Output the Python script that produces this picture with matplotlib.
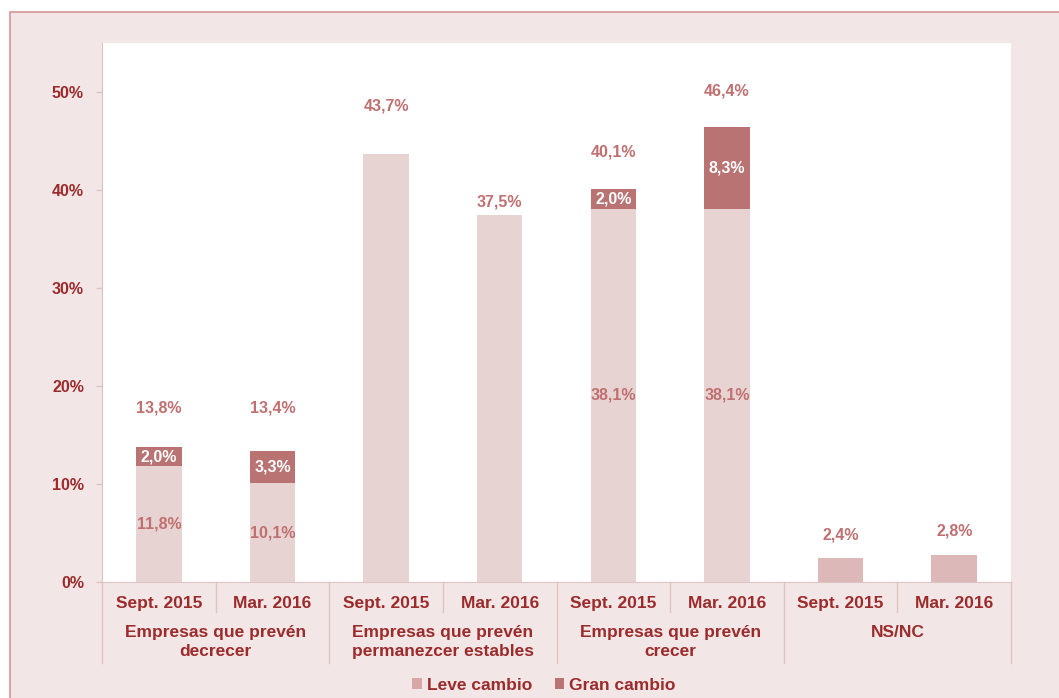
import numpy as np
import matplotlib
matplotlib.use('Agg')
import matplotlib.pyplot as plt
from matplotlib.patches import Rectangle, Patch
from matplotlib.lines import Line2D

plt.rcParams['font.family'] = ['Liberation Sans', 'DejaVu Sans']

# data
periods = ['Sept. 2015', 'Mar. 2016'] * 4
groups = ['Empresas que prevén\ndecrecer',
          'Empresas que prevén\npermanezcer estables',
          'Empresas que prevén\ncrecer',
          'NS/NC']
leve = [11.8, 10.1, 43.7, 37.5, 38.1, 38.1, 2.4, 2.8]
gran = [2.0, 3.3, 0.0, 0.0, 2.0, 8.3, 0.0, 0.0]
totals = [13.8, 13.4, 43.7, 37.5, 40.1, 46.4, 2.4, 2.8]
show_parts = [True, True, False, False, True, True, False, False]
yticks = [0, 10, 20, 30, 40, 50]

# label offsets above the bar top (percentage points), as placed in the original
total_offset = [4.0, 4.4, 4.9, 1.3, 3.8, 3.7, 2.4, 2.4]

DARK = '#9c2b2b'
LABEL = '#c07070'
LEVE = '#e8d3d3'
GRAN = '#b87372'
NSNC = '#ddb8b8'
BG = '#f3e6e7'
LINE = '#dfc3c3'

def fmt(v):
    return ('%.1f%%' % v).replace('.', ',')

fig = plt.figure(figsize=(10.59, 6.98), dpi=100, facecolor='white')
fig.patches.append(Rectangle((10 / 1059, -0.1), 1.2, (698 - 12) / 698 + 0.1,
                             transform=fig.transFigure, facecolor=BG,
                             edgecolor='#d49595', linewidth=1.2, zorder=-10))

ax = fig.add_axes([102 / 1059, (698 - 582) / 698, 909 / 1059, 539 / 698])
ax.set_facecolor('white')

x = np.arange(len(leve))
leve_colors = [LEVE] * 6 + [NSNC] * 2
ax.bar(x, leve, width=0.4, color=leve_colors, zorder=2)
ax.bar(x, gran, width=0.4, bottom=leve, color=GRAN, zorder=2)

for i in range(len(x)):
    ax.text(x[i], totals[i] + total_offset[i], fmt(totals[i]), ha='center', va='center',
            color=LABEL, fontsize=11.5, fontweight='bold')
    if show_parts[i]:
        ax.text(x[i], leve[i] / 2, fmt(leve[i]), ha='center', va='center',
                color=LABEL, fontsize=11.5, fontweight='bold')
        ax.text(x[i], leve[i] + gran[i] / 2, fmt(gran[i]), ha='center', va='center',
                color='white', fontsize=11.5, fontweight='bold')

ax.set_xlim(-0.5, len(x) - 0.5)
ax.set_ylim(0, 55)
ax.set_yticks(yticks)
ax.set_yticklabels(['%d%%' % t for t in yticks])
ax.tick_params(axis='y', colors=LINE, length=4.5, width=1, pad=8.5)
for lab in ax.get_yticklabels():
    lab.set_color(DARK)
    lab.set_fontweight('bold')
    lab.set_fontsize(11.5)
ax.set_xticks([])

for s in ['top', 'right']:
    ax.spines[s].set_visible(False)
ax.spines['left'].set_color(LINE)
ax.spines['bottom'].set_color(LINE)

# category axis separators and labels
tr = ax.get_xaxis_transform()
for b in np.arange(-0.5, len(x), 1.0):
    long_line = (int(b + 0.5) % 2 == 0)
    y_end = -0.150 if long_line else -0.056
    ax.add_line(Line2D([b, b], [0, y_end], transform=tr, color=LINE,
                       linewidth=1, clip_on=False))
for i, p in enumerate(periods):
    ax.text(x[i], -0.039, p, transform=tr, ha='center', va='center',
            color=DARK, fontsize=12.5, fontweight='bold')
for g, name in enumerate(groups):
    ax.text(2 * g + 0.5, -0.080, name, transform=tr, ha='center', va='top',
            color=DARK, fontsize=12.5, fontweight='bold', linespacing=1.35)

handles = [Patch(facecolor='#d9a6a6', label='Leve cambio'),
           Patch(facecolor=GRAN, label='Gran cambio')]
leg = fig.legend(handles=handles, loc='center', bbox_to_anchor=(544 / 1059, 1 - 685 / 698),
                 ncol=2, frameon=False, handlelength=0.55, handleheight=0.55,
                 handletextpad=0.3, columnspacing=1.3,
                 prop={'weight': 'bold', 'size': 12.5})
for t in leg.get_texts():
    t.set_color(DARK)

fig.savefig('out.png', dpi=100, facecolor='white')
